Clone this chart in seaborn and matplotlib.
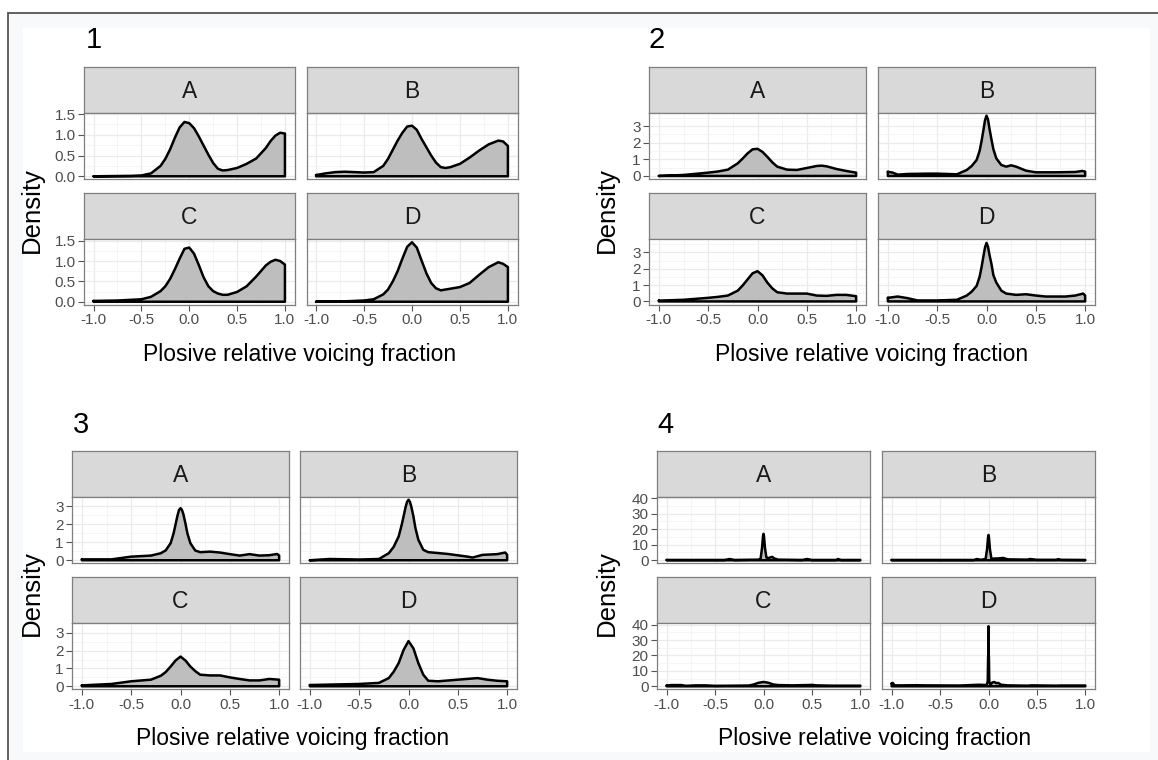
import numpy as np
import matplotlib
matplotlib.use('Agg')
import matplotlib.pyplot as plt
from matplotlib.patches import Rectangle
from matplotlib.lines import Line2D
from matplotlib.ticker import MultipleLocator, FormatStrFormatter
import seaborn as sns

W, H = 1158, 760

# ---- densities (x = voicing fraction, y = density) ----
# figure 1
g1a_x = [-1.0, -0.6, -0.5, -0.4, -0.3, -0.25, -0.2, -0.15, -0.1, -0.05, 0.0, 0.05, 0.1, 0.15,
         0.2, 0.25, 0.3, 0.35, 0.4, 0.5, 0.6, 0.7, 0.8, 0.85, 0.9, 0.95, 1.0]
g1a_y = [0.0, 0.01, 0.02, 0.07, 0.25, 0.42, 0.65, 0.93, 1.18, 1.31, 1.28, 1.16, 0.96, 0.74,
         0.52, 0.32, 0.18, 0.14, 0.15, 0.2, 0.3, 0.43, 0.68, 0.85, 0.98, 1.05, 1.03]
g1b_x = [-1.0, -0.9, -0.8, -0.7, -0.6, -0.5, -0.4, -0.3, -0.25, -0.2, -0.15, -0.1, -0.05, 0.0,
         0.05, 0.1, 0.15, 0.2, 0.25, 0.3, 0.35, 0.4, 0.5, 0.6, 0.7, 0.8, 0.9, 0.95, 1.0]
g1b_y = [0.03, 0.07, 0.1, 0.11, 0.1, 0.09, 0.1, 0.25, 0.42, 0.64, 0.86, 1.05, 1.2, 1.22,
         1.12, 0.9, 0.7, 0.5, 0.33, 0.22, 0.2, 0.22, 0.3, 0.45, 0.62, 0.77, 0.86, 0.84, 0.73]
g1c_x = [-1.0, -0.75, -0.5, -0.4, -0.3, -0.25, -0.2, -0.15, -0.1, -0.05, 0.0, 0.05, 0.1, 0.15,
         0.2, 0.25, 0.3, 0.35, 0.4, 0.5, 0.6, 0.7, 0.8, 0.85, 0.9, 0.95, 1.0]
g1c_y = [0.02, 0.03, 0.06, 0.12, 0.26, 0.38, 0.56, 0.8, 1.06, 1.3, 1.33, 1.18, 0.9, 0.6,
         0.38, 0.26, 0.2, 0.17, 0.17, 0.24, 0.38, 0.62, 0.89, 0.98, 1.03, 1.0, 0.91]
g1d_x = [-1.0, -0.7, -0.5, -0.4, -0.3, -0.25, -0.2, -0.15, -0.1, -0.05, 0.0, 0.05, 0.1, 0.15,
         0.2, 0.25, 0.3, 0.4, 0.5, 0.6, 0.7, 0.8, 0.9, 0.95, 1.0]
g1d_y = [0.0, 0.01, 0.03, 0.06, 0.18, 0.3, 0.5, 0.75, 1.06, 1.35, 1.46, 1.33, 1.01, 0.7,
         0.46, 0.33, 0.28, 0.32, 0.36, 0.46, 0.66, 0.85, 0.97, 0.93, 0.85]

# figure 2
g2a_x = [-1.0, -0.75, -0.5, -0.4, -0.3, -0.2, -0.15, -0.1, -0.05, 0.0, 0.05, 0.1, 0.15, 0.2,
         0.3, 0.4, 0.5, 0.6, 0.65, 0.7, 0.8, 0.9, 1.0]
g2a_y = [0.0, 0.06, 0.2, 0.27, 0.38, 0.76, 1.05, 1.36, 1.6, 1.63, 1.45, 1.15, 0.82, 0.56,
         0.38, 0.36, 0.48, 0.6, 0.62, 0.58, 0.42, 0.3, 0.2]
g2b_x = [-1.0, -0.95, -0.9, -0.8, -0.6, -0.5, -0.3, -0.2, -0.15, -0.1, -0.07, -0.05, -0.03,
         -0.015, 0.0, 0.015, 0.03, 0.05, 0.07, 0.1, 0.15, 0.2, 0.25, 0.3, 0.4, 0.5, 0.7, 0.9,
         0.97, 1.0]
g2b_y = [0.25, 0.2, 0.08, 0.12, 0.14, 0.14, 0.1, 0.36, 0.6, 0.96, 1.5, 2.1, 2.8,
         3.35, 3.62, 3.4, 2.85, 2.2, 1.6, 1.05, 0.66, 0.56, 0.64, 0.56, 0.32, 0.22, 0.22, 0.24,
         0.3, 0.26]
g2c_x = [-1.0, -0.75, -0.5, -0.4, -0.3, -0.2, -0.15, -0.1, -0.05, 0.0, 0.05, 0.1, 0.15, 0.2,
         0.3, 0.5, 0.6, 0.7, 0.8, 0.9, 1.0]
g2c_y = [0.05, 0.1, 0.22, 0.28, 0.36, 0.66, 0.98, 1.35, 1.72, 1.85, 1.6, 1.15, 0.8, 0.56,
         0.48, 0.48, 0.36, 0.34, 0.4, 0.4, 0.32]
g2d_x = [-1.0, -0.9, -0.8, -0.7, -0.5, -0.3, -0.2, -0.15, -0.1, -0.07, -0.05, -0.03, -0.015,
         0.0, 0.015, 0.03, 0.05, 0.07, 0.1, 0.15, 0.2, 0.3, 0.4, 0.5, 0.6, 0.8, 0.9, 0.98, 1.0]
g2d_y = [0.22, 0.3, 0.2, 0.06, 0.06, 0.1, 0.36, 0.6, 0.95, 1.5, 2.1, 2.8, 3.3,
         3.58, 3.35, 2.85, 2.3, 1.6, 1.15, 0.66, 0.48, 0.4, 0.44, 0.36, 0.3, 0.3, 0.36, 0.48, 0.36]

# figure 3
g3a_x = [-1.0, -0.7, -0.5, -0.3, -0.2, -0.15, -0.1, -0.07, -0.05, -0.03, -0.015, 0.0, 0.015,
         0.03, 0.05, 0.07, 0.1, 0.15, 0.2, 0.3, 0.4, 0.5, 0.6, 0.7, 0.8, 0.9, 0.98, 1.0]
g3a_y = [0.05, 0.05, 0.2, 0.26, 0.39, 0.55, 0.95, 1.5, 2.0, 2.5, 2.8, 2.9, 2.8,
         2.55, 2.05, 1.5, 0.95, 0.54, 0.45, 0.48, 0.43, 0.34, 0.26, 0.34, 0.26, 0.28, 0.35, 0.26]
g3b_x = [-1.0, -0.8, -0.5, -0.3, -0.2, -0.15, -0.1, -0.07, -0.05, -0.03, -0.015, 0.0, 0.015,
         0.03, 0.05, 0.07, 0.1, 0.15, 0.2, 0.4, 0.6, 0.65, 0.75, 0.9, 0.98, 1.0]
g3b_y = [0.0, 0.07, 0.04, 0.07, 0.39, 0.75, 1.32, 1.95, 2.44, 2.95, 3.25, 3.37, 3.25,
         2.95, 2.44, 1.8, 1.14, 0.58, 0.45, 0.35, 0.2, 0.15, 0.3, 0.34, 0.43, 0.3]
g3c_x = [-1.0, -0.7, -0.5, -0.3, -0.2, -0.15, -0.1, -0.05, 0.0, 0.05, 0.1, 0.15, 0.2, 0.3,
         0.4, 0.5, 0.6, 0.7, 0.8, 0.9, 1.0]
g3c_y = [0.05, 0.13, 0.28, 0.37, 0.59, 0.8, 1.11, 1.45, 1.67, 1.45, 1.11, 0.85, 0.65, 0.61,
         0.61, 0.5, 0.41, 0.33, 0.33, 0.41, 0.37]
g3d_x = [-1.0, -0.5, -0.3, -0.2, -0.15, -0.1, -0.05, 0.0, 0.05, 0.1, 0.15, 0.2, 0.3, 0.5,
         0.7, 0.8, 0.9, 1.0]
g3d_y = [0.07, 0.13, 0.19, 0.46, 0.82, 1.3, 2.04, 2.54, 2.13, 1.3, 0.65, 0.31, 0.28, 0.37,
         0.46, 0.37, 0.31, 0.28]

# figure 4
g4a_x = [-1.0, -0.4, -0.35, -0.3, -0.05, -0.03, -0.015, -0.005, 0.0, 0.005, 0.015, 0.03, 0.05,
         0.07, 0.09, 0.11, 0.15, 0.4, 0.45, 0.5, 0.75, 0.77, 0.8, 1.0]
g4a_y = [0.2, 0.2, 0.8, 0.2, 0.4, 1.0, 8.0, 15.5, 17.0, 15.5, 8.0, 1.8, 1.4,
         1.8, 2.2, 1.2, 0.4, 0.2, 0.8, 0.2, 0.2, 0.8, 0.2, 0.2]
g4b_x = [-1.0, -0.15, -0.12, -0.08, -0.03, -0.015, -0.005, 0.0, 0.005, 0.015, 0.03, 0.1, 0.15,
         0.2, 0.4, 0.43, 0.5, 0.7, 0.72, 0.75, 1.0]
g4b_y = [0.2, 0.2, 0.8, 0.3, 0.8, 7.0, 14.5, 16.3, 14.5, 7.0, 1.0, 1.2, 1.5,
         0.6, 0.4, 0.8, 0.3, 0.3, 0.7, 0.3, 0.2]
g4c_x = [-1.0, -0.95, -0.85, -0.8, -0.7, -0.6, -0.5, -0.3, -0.15, -0.1, -0.05, 0.0, 0.05, 0.1,
         0.15, 0.3, 0.45, 0.5, 0.55, 0.7, 1.0]
g4c_y = [0.5, 0.8, 0.8, 0.3, 0.6, 0.6, 0.3, 0.4, 0.5, 1.2, 2.3, 2.8, 2.3, 1.2,
         0.8, 0.6, 0.8, 0.9, 0.6, 0.4, 0.4]
g4d_x = [-1.0, -0.99, -0.97, -0.9, -0.75, -0.65, -0.3, -0.1, -0.02, -0.008, -0.004, -0.001, 0.0,
         0.001, 0.004, 0.008, 0.02, 0.04, 0.06, 0.08, 0.1, 0.13, 0.2, 0.4, 0.45, 0.7, 0.75, 1.0]
g4d_y = [1.8, 2.2, 0.6, 0.6, 0.7, 0.6, 0.5, 1.0, 0.8, 3.0, 19.5, 20.0, 39.0,
         20.0, 19.5, 3.0, 1.0, 2.5, 2.8, 2.0, 2.2, 1.0, 0.6, 0.4, 0.6, 0.4, 0.5, 0.5]

facet_names = ['A', 'B', 'C', 'D']
x_ticks = [-1.0, -0.5, 0.0, 0.5, 1.0]
x_ticklabels = ['-1.0', '-0.5', '0.0', '0.5', '1.0']
x_title = 'Plosive relative voicing fraction'
y_title = 'Density'

# 4つのグループの配置（ピクセル座標）
groups = [
    dict(num='1', num_xy=(86, 40), cols=[(84, 294.5), (306.5, 517.5)],
         rows=[(66.7, 112.7, 179.3), (192.7, 239.3, 304.7)],
         ylab_xy=(32, 210), xlab_xy=(300, 355), ylim=(-0.073, 1.533), major=0.5, fmt='%.1f',
         curves=[(g1a_x, g1a_y), (g1b_x, g1b_y), (g1c_x, g1c_y), (g1d_x, g1d_y)]),
    dict(num='2', num_xy=(648, 40), cols=[(649, 866), (878, 1095)],
         rows=[(66.7, 112.7, 179.3), (192.7, 239.3, 304.7)],
         ylab_xy=(607, 210), xlab_xy=(872, 355), ylim=(-0.2, 3.80), major=1, fmt='%d',
         curves=[(g2a_x, g2a_y), (g2b_x, g2b_y), (g2c_x, g2c_y), (g2d_x, g2d_y)]),
    dict(num='3', num_xy=(73, 425), cols=[(72, 289), (300, 517)],
         rows=[(451, 496.7, 563.3), (577, 623.3, 689.3)],
         ylab_xy=(32, 593), xlab_xy=(293, 738), ylim=(-0.17, 3.54), major=1, fmt='%d',
         curves=[(g3a_x, g3a_y), (g3b_x, g3b_y), (g3c_x, g3c_y), (g3d_x, g3d_y)]),
    dict(num='4', num_xy=(657, 425), cols=[(657, 870), (882, 1095)],
         rows=[(451, 496.7, 563.3), (577, 623.3, 689.3)],
         ylab_xy=(607, 593), xlab_xy=(875, 738), ylim=(-1.95, 40.9), major=10, fmt='%d',
         curves=[(g4a_x, g4a_y), (g4b_x, g4b_y), (g4c_x, g4c_y), (g4d_x, g4d_y)]),
]

sns.set_theme(style='white')
plt.rcParams['font.family'] = ['Liberation Sans', 'DejaVu Sans']

fig = plt.figure(figsize=(W / 100, H / 100), dpi=100)
fig.patch.set_facecolor('white')


def box(x0, y0, x1, y1):
    # ピクセル座標 -> figure座標
    return [x0 / W, 1 - y1 / H, (x1 - x0) / W, (y1 - y0) / H]


def fx(x):
    return x / W


def fy(y):
    return 1 - y / H


# 外枠
fig.add_artist(Rectangle((fx(8), 0), 1 - fx(8), fy(13), transform=fig.transFigure,
                         facecolor='#f7f9fb', edgecolor='none', zorder=0))
fig.add_artist(Rectangle((fx(23), fy(752)), fx(1150) - fx(23), fy(28) - fy(752),
                         transform=fig.transFigure, facecolor='white', edgecolor='none', zorder=0))
fig.add_artist(Line2D([fx(8), 1], [fy(13), fy(13)], transform=fig.transFigure,
                      color='#555555', lw=1.3))
fig.add_artist(Line2D([fx(8), fx(8)], [0, fy(13)], transform=fig.transFigure,
                      color='#555555', lw=1.3))

border = '#7f7f7f'

for g in groups:
    for i, (xs, ys) in enumerate(g['curves']):
        r, c = divmod(i, 2)
        x0, x1 = g['cols'][c]
        top, sb, bottom = g['rows'][r]

        # ストリップ
        sax = fig.add_axes(box(x0, top, x1, sb))
        sax.set_facecolor('#d9d9d9')
        sax.set_xticks([])
        sax.set_yticks([])
        for sp in sax.spines.values():
            sp.set_color(border)
            sp.set_linewidth(0.9)
        sax.text(0.5, 0.47, facet_names[i], ha='center', va='center', fontsize=16.5,
                 color='#1a1a1a', transform=sax.transAxes)

        # パネル
        ax = fig.add_axes(box(x0, sb, x1, bottom))
        ax.set_facecolor('white')
        px = np.concatenate([xs, [xs[-1], xs[0], xs[0]]])
        py = np.concatenate([ys, [0, 0, ys[0]]])
        ax.fill(px, py, color='#bebebe', lw=0, zorder=2)
        sns.lineplot(x=px, y=py, ax=ax, sort=False, estimator=None, color='black',
                     lw=1.8, zorder=3)
        ax.set_xlim(-1.1, 1.1)
        ax.set_ylim(*g['ylim'])
        ax.xaxis.set_major_locator(MultipleLocator(0.5))
        ax.xaxis.set_minor_locator(MultipleLocator(0.25))
        ax.yaxis.set_major_locator(MultipleLocator(g['major']))
        ax.yaxis.set_minor_locator(MultipleLocator(g['major'] / 2))
        ax.grid(which='major', color='#ebebeb', lw=0.9)
        ax.grid(which='minor', color='#f4f4f4', lw=0.6)
        ax.set_axisbelow(True)
        ax.set_xlabel('')
        ax.set_ylabel('')
        for sp in ax.spines.values():
            sp.set_color(border)
            sp.set_linewidth(0.9)
        ax.tick_params(which='minor', length=0)
        ax.tick_params(which='major', length=4, width=0.8, color='#555555',
                       labelcolor='#4d4d4d', labelsize=11, pad=2)
        if r == 1:
            ax.set_xticks(x_ticks)
            ax.set_xticklabels(x_ticklabels)
            ax.tick_params(axis='x', bottom=True)
        else:
            ax.tick_params(axis='x', bottom=False, labelbottom=False)
        if c == 0:
            ax.yaxis.set_major_formatter(FormatStrFormatter(g['fmt']))
            ax.tick_params(axis='y', left=True)
        else:
            ax.tick_params(axis='y', left=False, labelleft=False)

    fig.text(fx(g['num_xy'][0]), fy(g['num_xy'][1]), g['num'], fontsize=21,
             ha='left', va='center', color='black')
    fig.text(fx(g['ylab_xy'][0]), fy(g['ylab_xy'][1]), y_title, fontsize=18.5,
             rotation=90, ha='center', va='center', color='black')
    fig.text(fx(g['xlab_xy'][0]), fy(g['xlab_xy'][1]), x_title, fontsize=16.5,
             ha='center', va='center', color='black')

plt.savefig('out.png', dpi=100)
